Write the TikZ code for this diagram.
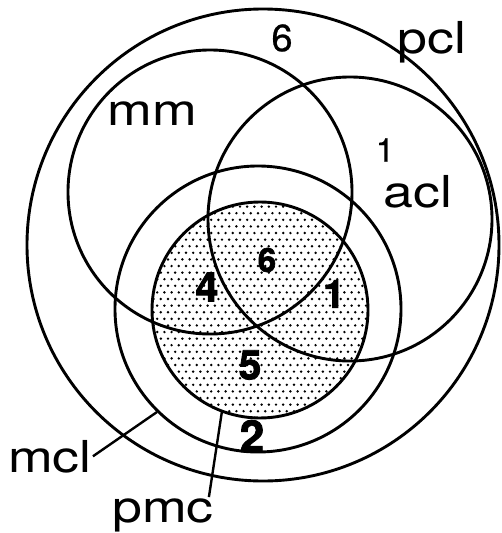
\documentclass[tikz,border=0pt]{standalone}
\usepackage{fontspec}
\newfontfamily\lblfont[FakeStretch=1.22]{TeX Gyre Heros}
\newfontfamily\numfont[FakeBold=0.6,BoldFeatures={FakeBold=2}]{TeX Gyre Heros}
\usetikzlibrary{calc}

\tikzset{
  ring/.style={line width=2.9pt},
  lbl/.style={font=\lblfont\fontsize{44}{48}\selectfont, inner sep=1pt, anchor=base},
  num/.style={font=\numfont\fontsize{38}{40}\selectfont, inner sep=0pt},
  bnum/.style={font=\numfont\bfseries\fontsize{41}{44}\selectfont, inner sep=0pt},
  leader/.style={line width=2.4pt}
}

\begin{document}
\begin{tikzpicture}[x=1pt,y=-1pt]
  \useasboundingbox (0,0) rectangle (501,533);
  % centres of the circles
  \coordinate (pclc) at (263,245);
  \coordinate (mmc) at (210,192);
  \coordinate (aclc) at (350,219);
  \coordinate (mclc) at (258,309);
  \coordinate (pmcc) at (260,310);
  % dotted pmc
  \begin{scope}
    \clip (pmcc) circle (108pt);
    \foreach \r in {0,...,33}{
      \foreach \c in {0,...,30}{
        \fill ({150+7.2*\c+3.6*mod(\r,2)},{200+6.6*\r}) circle (1.35pt);
      }
    }
  \end{scope}
  % circles
  \draw[ring] (pclc) circle (236pt);
  \draw[ring] (mmc) circle (142pt);
  \draw[ring] (aclc) circle (142pt);
  \draw[ring] (mclc) circle (143pt);
  \draw[ring] (pmcc) circle (108pt);
  % labels
  \node[lbl] (pcl) at (432,53) {pcl};
  \node[lbl] (mm) at (152,125) {mm};
  \node[lbl] (acl) at (418,207) {acl};
  \node[lbl] (mcl) at (50,472) {mcl};
  \node[lbl] (pmc) at (163,522) {pmc};
  % numbers
  \node[num] (six) at (282,38) {6};
  \node[num, font=\numfont\fontsize{33}{36}\selectfont] (one) at (385,150) {1};
  \node[bnum, font=\numfont\bfseries\fontsize{33}{34}\selectfont] (sixin) at (267,260) {6};
  \node[bnum] (four) at (207,287) {4};
  \node[bnum, font=\numfont\bfseries\fontsize{39}{42}\selectfont] (onein) at (334,294) {1};
  \node[bnum] (five) at (250,365) {5};
  \node[bnum, font=\numfont\bfseries\fontsize{44}{46}\selectfont] (two) at (252,436) {2};
  % leaders
  \coordinate (mcltip) at (157,412);
  \coordinate (pmctip) at (222,411);
  \draw[leader] (mcl.east) -- (mcltip);
  \draw[leader] ([xshift=-6pt]pmc.north east) -- (pmctip);
\end{tikzpicture}
\end{document}
